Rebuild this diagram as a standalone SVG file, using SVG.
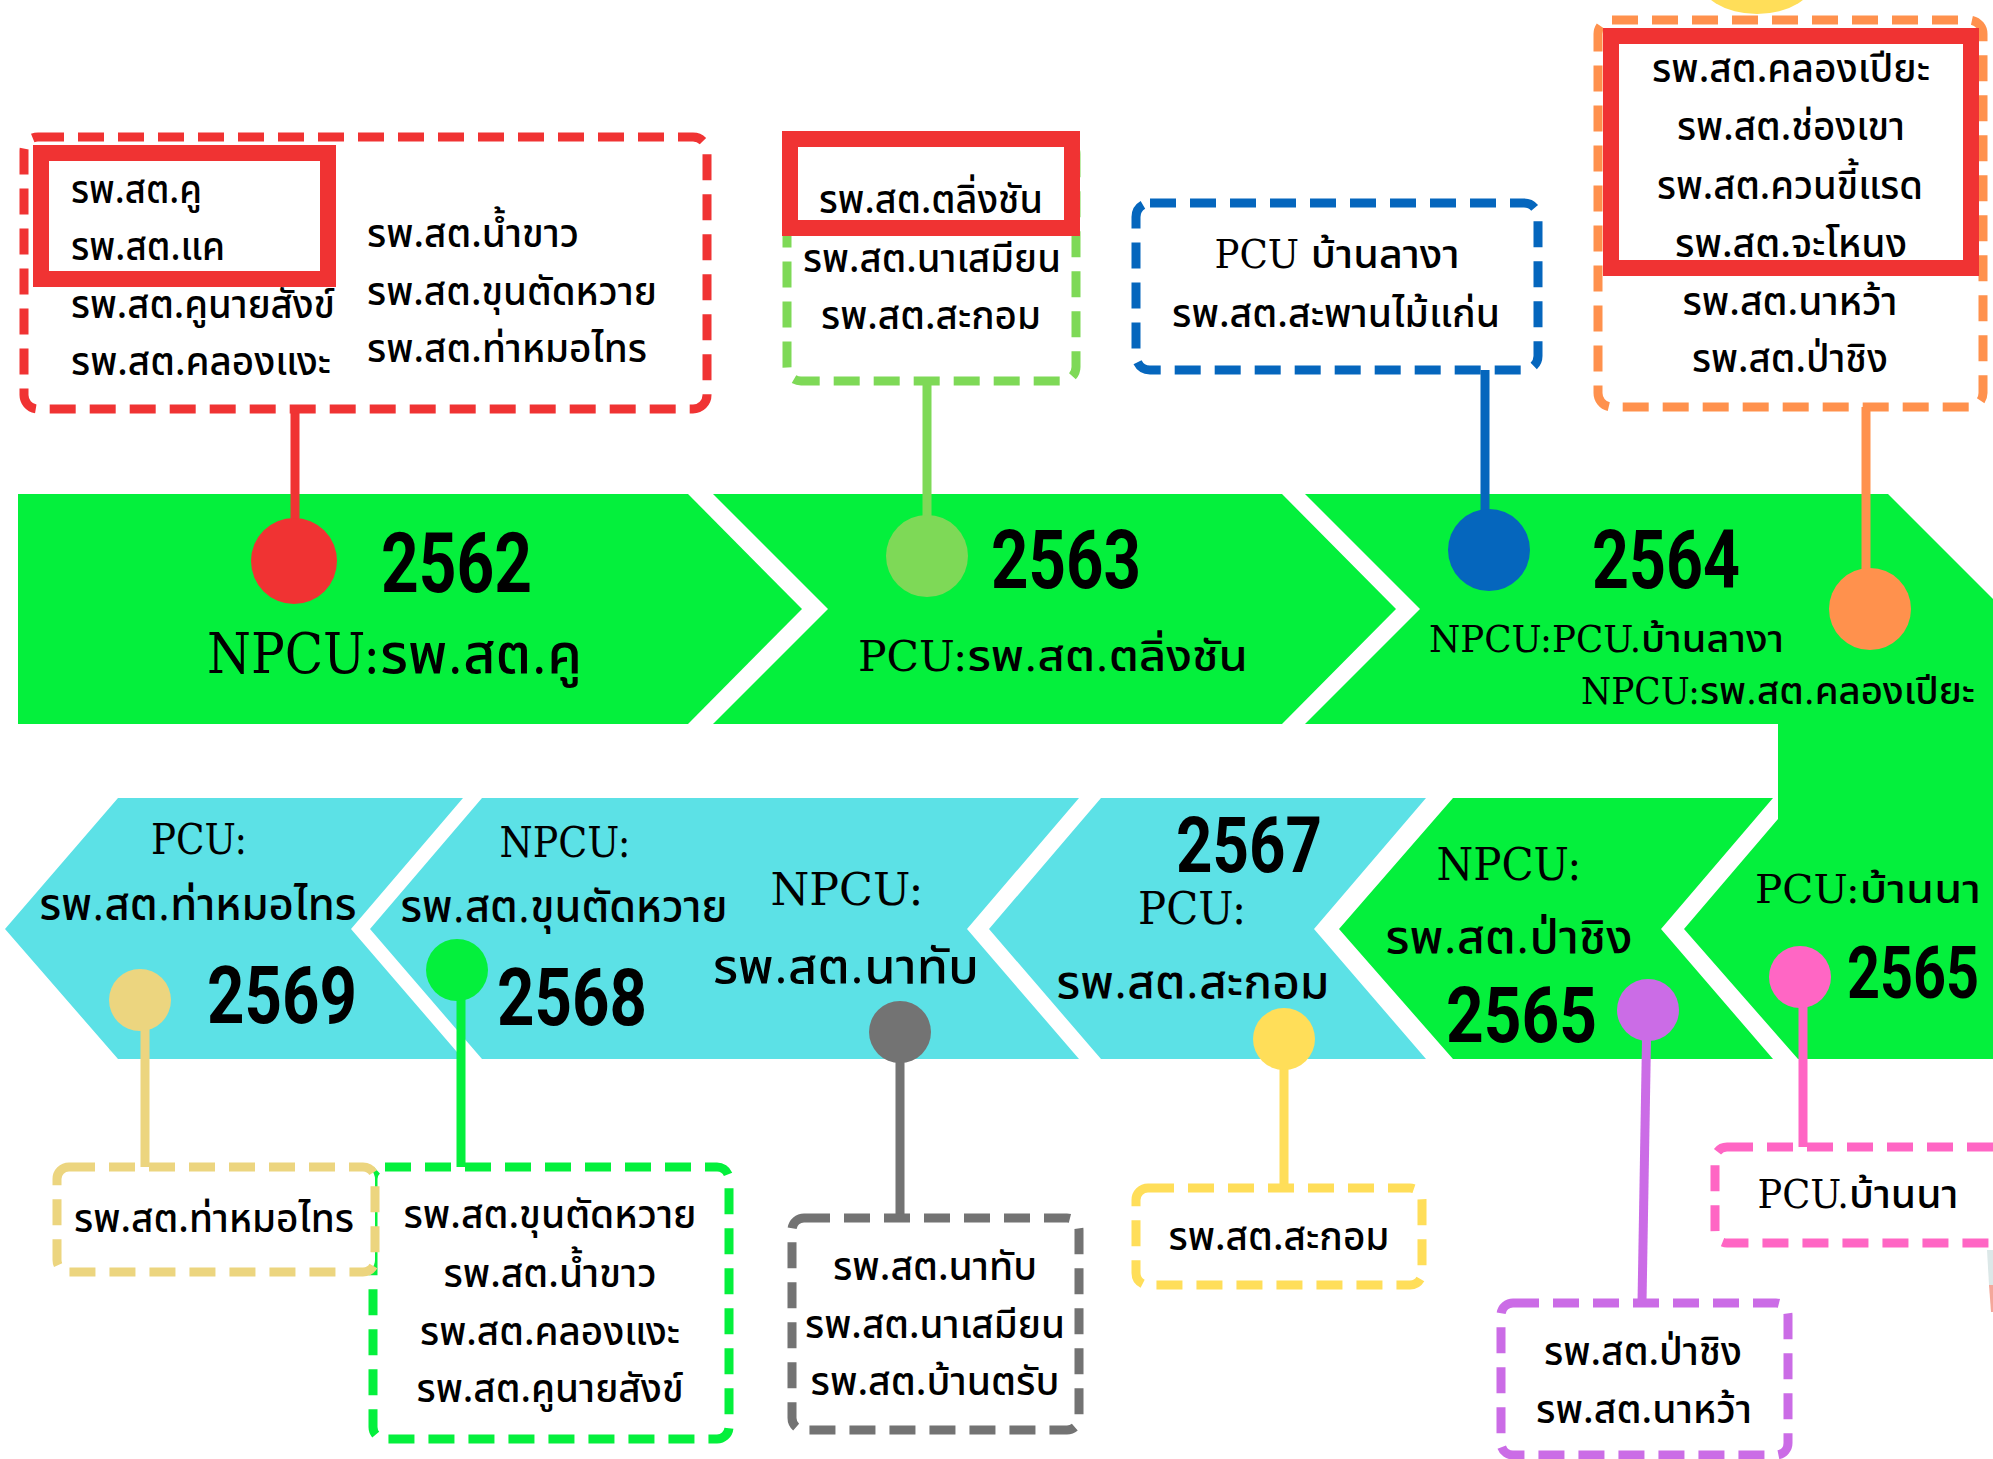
<svg xmlns="http://www.w3.org/2000/svg" width="1993" height="1459" viewBox="0 0 1993 1459">
<style>
.yr{font-family:Roboto,"Liberation Sans",sans-serif;font-weight:700;fill:#000}
.lb{font-family:"DejaVu Serif Condensed","DejaVu Serif","Noto Sans Thai",serif;font-weight:500;fill:#000}
.tb{font-family:"Noto Sans Thai","Noto Sans",sans-serif;font-size:40px;font-weight:500;fill:#000}
.c{text-anchor:middle}
.box{fill:#fff;stroke-width:9;stroke-dasharray:26 14}
.solid{fill:none;stroke:#f03333;stroke-width:16}
.ln{stroke-width:9;fill:none}
</style>
<rect width="1993" height="1459" fill="#fff"/>
<ellipse cx="1757" cy="-22" rx="58" ry="36" fill="#ffde59"/>
<polygon points="1987,1250 1993,1250 1993,1285 1989,1285" fill="#dce8e8"/>
<polygon points="1989,1285 1993,1285 1993,1312 1991,1312" fill="#f4a79a"/>

<g id="banner-2562">
<path d="M18,494 H688 L802,609 L688,724 H18 Z" fill="#04f03c"/>
<text class="yr" x="381" y="592" font-size="83" textLength="151" lengthAdjust="spacingAndGlyphs">2562</text>
<text class="lb" x="207" y="673" font-size="56" textLength="375" lengthAdjust="spacingAndGlyphs">NPCU:รพ.สต.คู</text>
</g>
<g id="banner-2563">
<path d="M713,494 H1282 L1396,609 L1282,724 H713 L828,609 Z" fill="#04f03c"/>
<text class="yr" x="991" y="588" font-size="82" textLength="150" lengthAdjust="spacingAndGlyphs">2563</text>
<text class="lb" x="858" y="671" font-size="43" textLength="390" lengthAdjust="spacingAndGlyphs">PCU:รพ.สต.ตลิ่งชัน</text>
</g>
<g id="banner-2564-2565">
<path d="M1305,494 H1888 L2003,609 V1059 H1798 L1684,929 L1778,819 V724 H1305 L1420,609 Z" fill="#04f03c"/>
<text class="yr" x="1592" y="588" font-size="82" textLength="148" lengthAdjust="spacingAndGlyphs">2564</text>
<text class="lb" x="1429" y="652" font-size="38" textLength="355" lengthAdjust="spacingAndGlyphs">NPCU:PCU.บ้านลางา</text>
<text class="lb" x="1581" y="704" font-size="38" textLength="394" lengthAdjust="spacingAndGlyphs">NPCU:รพ.สต.คลองเปียะ</text>
<text class="lb c" x="1868" y="903" font-size="40" textLength="226" lengthAdjust="spacingAndGlyphs">PCU:บ้านนา</text>
<text class="yr" transform="translate(1847,998) scale(0.8,1)" font-size="72">2565</text>
</g>
<g id="banner-2565-npcu">
<path d="M1339,929 L1453,798 H1773 L1661,929 L1773,1059 H1453 Z" fill="#04f03c"/>
<text class="lb c" x="1509" y="880" font-size="44" textLength="145" lengthAdjust="spacingAndGlyphs">NPCU:</text>
<text class="lb c" x="1509" y="953" font-size="46" textLength="247" lengthAdjust="spacingAndGlyphs">รพ.สต.ป่าชิง</text>
<text class="yr" x="1446" y="1042" font-size="78" textLength="151" lengthAdjust="spacingAndGlyphs">2565</text>
</g>
<g id="banner-2567">
<path d="M989,929 L1101,798 H1426 L1314,929 L1426,1059 H1101 Z" fill="#5ce1e6"/>
<text class="yr" x="1176" y="872" font-size="78" textLength="146" lengthAdjust="spacingAndGlyphs">2567</text>
<text class="lb c" x="1192" y="924" font-size="44" textLength="108" lengthAdjust="spacingAndGlyphs">PCU:</text>
<text class="lb c" x="1193" y="998" font-size="46" textLength="273" lengthAdjust="spacingAndGlyphs">รพ.สต.สะกอม</text>
</g>
<g id="banner-2568">
<path d="M370,929 L482,798 H1079 L967,929 L1079,1059 H482 Z" fill="#5ce1e6"/>
<text class="lb c" x="565" y="857" font-size="42" textLength="131" lengthAdjust="spacingAndGlyphs">NPCU:</text>
<text class="lb c" x="564" y="922" font-size="44" textLength="327" lengthAdjust="spacingAndGlyphs">รพ.สต.ขุนตัดหวาย</text>
<text class="yr" x="497" y="1025" font-size="79" textLength="150" lengthAdjust="spacingAndGlyphs">2568</text>
<text class="lb c" x="847" y="905" font-size="44" textLength="153" lengthAdjust="spacingAndGlyphs">NPCU:</text>
<text class="lb c" x="846" y="983" font-size="48" textLength="266" lengthAdjust="spacingAndGlyphs">รพ.สต.นาทับ</text>
</g>
<g id="banner-2569">
<path d="M5,929 L118,798 H463 L351,929 L463,1059 H118 Z" fill="#5ce1e6"/>
<text class="lb c" x="199" y="854" font-size="42" textLength="96" lengthAdjust="spacingAndGlyphs">PCU:</text>
<text class="lb c" x="198" y="920" font-size="44" textLength="317" lengthAdjust="spacingAndGlyphs">รพ.สต.ท่าหมอไทร</text>
<text class="yr" x="207" y="1023" font-size="79" textLength="150" lengthAdjust="spacingAndGlyphs">2569</text>
</g>

<g id="connectors">
<line class="ln" x1="295" y1="409" x2="295" y2="561" stroke="#f03333"/>
<circle cx="294" cy="561" r="43" fill="#f03333"/>
<line class="ln" x1="927" y1="381" x2="927" y2="556" stroke="#7ed957"/>
<circle cx="927" cy="556" r="41" fill="#7ed957"/>
<line class="ln" x1="1485" y1="370" x2="1485" y2="550" stroke="#0566bd"/>
<circle cx="1489" cy="550" r="41" fill="#0566bd"/>
<line class="ln" x1="1866" y1="407" x2="1866" y2="609" stroke="#ff914d"/>
<circle cx="1870" cy="609" r="41" fill="#ff914d"/>
<line class="ln" x1="145" y1="1000" x2="145" y2="1167" stroke="#ecd57f"/>
<circle cx="140" cy="1000" r="31" fill="#ecd57f"/>
<line class="ln" x1="461" y1="970" x2="461" y2="1167" stroke="#04f03c"/>
<circle cx="457" cy="970" r="31" fill="#04f03c"/>
<line class="ln" x1="900" y1="1032" x2="900" y2="1218" stroke="#737373"/>
<circle cx="900" cy="1032" r="31" fill="#737373"/>
<line class="ln" x1="1284" y1="1039" x2="1284" y2="1188" stroke="#ffde59"/>
<circle cx="1284" cy="1039" r="31" fill="#ffde59"/>
<line class="ln" x1="1647" y1="1010" x2="1642" y2="1303" stroke="#cb6ce6"/>
<circle cx="1648" cy="1010" r="31" fill="#cb6ce6"/>
<line class="ln" x1="1803" y1="977" x2="1803" y2="1147" stroke="#ff66c4"/>
<circle cx="1800" cy="977" r="31" fill="#ff66c4"/>
</g>

<g id="box-2562">
<rect class="box" x="24" y="137" width="683" height="272" rx="14" stroke="#f03333"/>
<rect class="solid" x="41" y="153" width="287" height="126"/>
<text class="tb" x="71" y="203" textLength="131" lengthAdjust="spacingAndGlyphs">รพ.สต.คู</text>
<text class="tb" x="71" y="260" textLength="154" lengthAdjust="spacingAndGlyphs">รพ.สต.แค</text>
<text class="tb" x="71" y="318" textLength="264" lengthAdjust="spacingAndGlyphs">รพ.สต.คูนายสังข์</text>
<text class="tb" x="71" y="375" textLength="260" lengthAdjust="spacingAndGlyphs">รพ.สต.คลองแงะ</text>
<text class="tb" x="367" y="247" textLength="212" lengthAdjust="spacingAndGlyphs">รพ.สต.น้ำขาว</text>
<text class="tb" x="367" y="305" textLength="290" lengthAdjust="spacingAndGlyphs">รพ.สต.ขุนตัดหวาย</text>
<text class="tb" x="367" y="362" textLength="280" lengthAdjust="spacingAndGlyphs">รพ.สต.ท่าหมอไทร</text>
</g>
<g id="box-2563">
<rect class="box" x="787" y="140" width="289" height="241" rx="14" stroke="#7ed957"/>
<rect class="solid" x="790" y="139" width="282" height="89"/>
<text class="tb c" x="931" y="213" textLength="224" lengthAdjust="spacingAndGlyphs">รพ.สต.ตลิ่งชัน</text>
<text class="tb c" x="932" y="272" textLength="258" lengthAdjust="spacingAndGlyphs">รพ.สต.นาเสมียน</text>
<text class="tb c" x="931" y="329" textLength="220" lengthAdjust="spacingAndGlyphs">รพ.สต.สะกอม</text>
</g>
<g id="box-2564-pcu">
<rect class="box" x="1136" y="203" width="402" height="167" rx="14" stroke="#0566bd"/>
<text class="lb c" x="1337" y="268" font-size="40" textLength="245" lengthAdjust="spacingAndGlyphs">PCU บ้านลางา</text>
<text class="tb c" x="1336" y="327" textLength="328" lengthAdjust="spacingAndGlyphs">รพ.สต.สะพานไม้แก่น</text>
</g>
<g id="box-2564-npcu">
<rect class="box" x="1598" y="20" width="385" height="387" rx="14" stroke="#ff914d"/>
<rect class="solid" x="1611" y="36" width="360" height="232"/>
<text class="tb c" x="1791" y="82" textLength="278" lengthAdjust="spacingAndGlyphs">รพ.สต.คลองเปียะ</text>
<text class="tb c" x="1791" y="140" textLength="228" lengthAdjust="spacingAndGlyphs">รพ.สต.ช่องเขา</text>
<text class="tb c" x="1790" y="199" textLength="266" lengthAdjust="spacingAndGlyphs">รพ.สต.ควนขี้แรด</text>
<text class="tb c" x="1791" y="257" textLength="232" lengthAdjust="spacingAndGlyphs">รพ.สต.จะโหนง</text>
<text class="tb c" x="1790" y="315" textLength="215" lengthAdjust="spacingAndGlyphs">รพ.สต.นาหว้า</text>
<text class="tb c" x="1790" y="372" textLength="196" lengthAdjust="spacingAndGlyphs">รพ.สต.ป่าชิง</text>
</g>
<g id="box-2568">
<rect class="box" x="373" y="1167" width="356" height="272" rx="12" stroke="#04f03c"/>
<text class="tb c" x="550" y="1228" textLength="293" lengthAdjust="spacingAndGlyphs">รพ.สต.ขุนตัดหวาย</text>
<text class="tb c" x="550" y="1287" textLength="213" lengthAdjust="spacingAndGlyphs">รพ.สต.น้ำขาว</text>
<text class="tb c" x="550" y="1345" textLength="260" lengthAdjust="spacingAndGlyphs">รพ.สต.คลองแงะ</text>
<text class="tb c" x="550" y="1402" textLength="267" lengthAdjust="spacingAndGlyphs">รพ.สต.คูนายสังข์</text>
</g>
<g id="box-2569">
<rect class="box" x="57" y="1167" width="318" height="105" rx="12" stroke="#ecd57f"/>
<text class="tb c" x="214" y="1232" textLength="280" lengthAdjust="spacingAndGlyphs">รพ.สต.ท่าหมอไทร</text>
</g>
<g id="box-2568-nathap">
<rect class="box" x="792" y="1218" width="287" height="212" rx="12" stroke="#737373"/>
<text class="tb c" x="935" y="1280" textLength="204" lengthAdjust="spacingAndGlyphs">รพ.สต.นาทับ</text>
<text class="tb c" x="935" y="1338" textLength="260" lengthAdjust="spacingAndGlyphs">รพ.สต.นาเสมียน</text>
<text class="tb c" x="935" y="1395" textLength="249" lengthAdjust="spacingAndGlyphs">รพ.สต.บ้านตรับ</text>
</g>
<g id="box-2567">
<rect class="box" x="1136" y="1188" width="286" height="97" rx="12" stroke="#ffde59"/>
<text class="tb c" x="1279" y="1250" textLength="221" lengthAdjust="spacingAndGlyphs">รพ.สต.สะกอม</text>
</g>
<g id="box-2565-npcu">
<rect class="box" x="1501" y="1303" width="287" height="152" rx="12" stroke="#cb6ce6"/>
<text class="tb c" x="1643" y="1365" textLength="198" lengthAdjust="spacingAndGlyphs">รพ.สต.ป่าชิง</text>
<text class="tb c" x="1644" y="1423" textLength="216" lengthAdjust="spacingAndGlyphs">รพ.สต.นาหว้า</text>
</g>
<g id="box-2565-pcu">
<rect class="box" x="1715" y="1147" width="300" height="96" rx="12" stroke="#ff66c4"/>
<text class="lb c" x="1858" y="1208" font-size="40" textLength="201" lengthAdjust="spacingAndGlyphs">PCU.บ้านนา</text>
</g>
</svg>
